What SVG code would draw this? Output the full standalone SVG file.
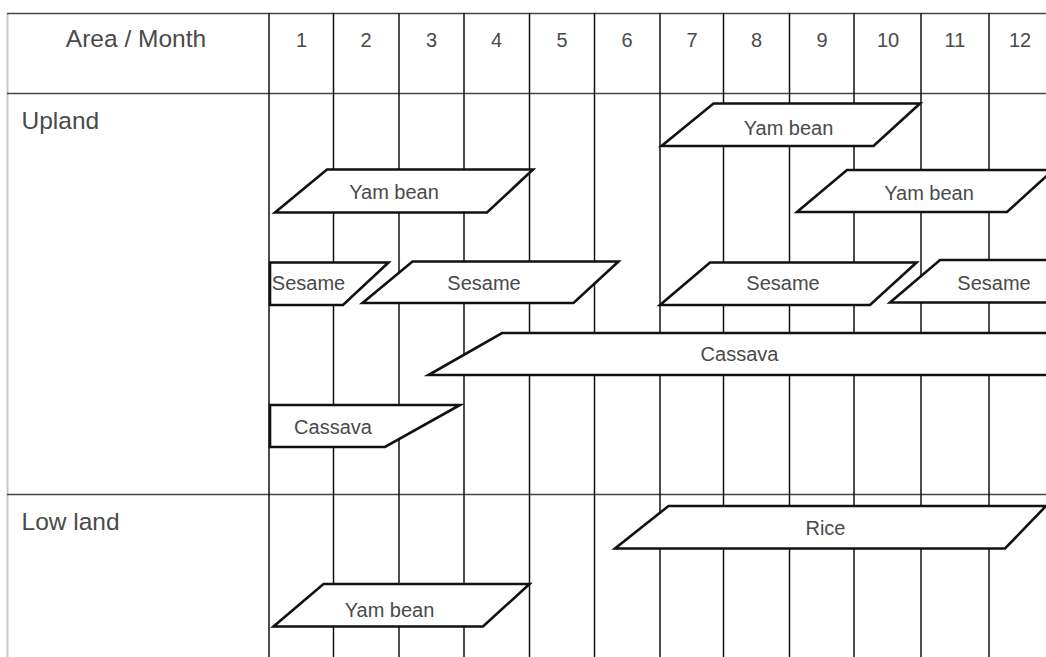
<svg xmlns="http://www.w3.org/2000/svg" width="1046" height="657" viewBox="0 0 1046 657">
<style>
.bg{fill:#fff}
.hl{stroke:#444;stroke-width:1.6;fill:none}
.vl{stroke:#111;stroke-width:1.5;fill:none}
.edge{stroke:#c8c8c8;stroke-width:2;fill:none}
.bar{fill:#fff;stroke:#111;stroke-width:2.6;stroke-linejoin:miter}
.t{font-family:"Liberation Sans",Arial,sans-serif;fill:#4a4a4a}
.hd{font-size:20px;text-anchor:middle}
.lab{font-size:24.5px}
.bt{font-size:20px;text-anchor:middle}
</style>
<rect class="bg" x="0" y="0" width="1046" height="657"/>
<g id="grid">
  <line class="edge" x1="7.5" y1="13" x2="7.5" y2="657"/>
  <line class="hl" x1="7" y1="13.5" x2="1046" y2="13.5"/>
  <line class="hl" x1="7" y1="93.5" x2="1046" y2="93.5"/>
  <line class="hl" x1="7" y1="494.5" x2="1046" y2="494.5"/>
  <line class="vl" x1="269" y1="13" x2="269" y2="657"/>
  <line class="vl" x1="333.5" y1="13" x2="333.5" y2="657"/>
  <line class="vl" x1="399" y1="13" x2="399" y2="657"/>
  <line class="vl" x1="464" y1="13" x2="464" y2="657"/>
  <line class="vl" x1="529.5" y1="13" x2="529.5" y2="657"/>
  <line class="vl" x1="594.5" y1="13" x2="594.5" y2="657"/>
  <line class="vl" x1="660" y1="13" x2="660" y2="657"/>
  <line class="vl" x1="723.5" y1="13" x2="723.5" y2="657"/>
  <line class="vl" x1="789.5" y1="13" x2="789.5" y2="657"/>
  <line class="vl" x1="854" y1="13" x2="854" y2="657"/>
  <line class="vl" x1="921" y1="13" x2="921" y2="657"/>
  <line class="vl" x1="989" y1="13" x2="989" y2="657"/>
</g>
<g id="header">
  <text class="t lab" x="136" y="47" text-anchor="middle">Area / Month</text>
  <text class="t hd" x="301.5" y="47">1</text>
  <text class="t hd" x="366" y="47">2</text>
  <text class="t hd" x="431.5" y="47">3</text>
  <text class="t hd" x="496.5" y="47">4</text>
  <text class="t hd" x="562" y="47">5</text>
  <text class="t hd" x="627" y="47">6</text>
  <text class="t hd" x="692" y="47">7</text>
  <text class="t hd" x="756.5" y="47">8</text>
  <text class="t hd" x="822" y="47">9</text>
  <text class="t hd" x="888" y="47">10</text>
  <text class="t hd" x="955" y="47">11</text>
  <text class="t hd" x="1020" y="47">12</text>
</g>
<g id="label-upland"><text class="t lab" x="21.5" y="128.5">Upland</text></g>
<g id="label-lowland"><text class="t lab" x="21.5" y="529.5">Low land</text></g>
<g id="up-yambean-1">
  <polygon class="bar" points="327,169.5 533,169.5 487,212.5 275,212.5"/>
  <text class="t bt" x="394" y="198.5">Yam bean</text>
</g>
<g id="up-yambean-2">
  <polygon class="bar" points="713.5,103.5 920,103.5 873.5,146 661.5,146"/>
  <text class="t bt" x="788.5" y="135">Yam bean</text>
</g>
<g id="up-yambean-3">
  <polygon class="bar" points="847,170 1053,170 1007,212 797,212"/>
  <text class="t bt" x="929" y="199.5">Yam bean</text>
</g>
<g id="up-sesame-1">
  <polygon class="bar" points="270,262.5 388.5,262.5 343,305 270,305"/>
  <text class="t bt" x="308.5" y="290">Sesame</text>
</g>
<g id="up-sesame-2">
  <polygon class="bar" points="412.5,261.5 618.5,261.5 573.5,303 362.5,303"/>
  <text class="t bt" x="484" y="289.5">Sesame</text>
</g>
<g id="up-sesame-3">
  <polygon class="bar" points="710,262.5 916.5,262.5 870,305 660,305"/>
  <text class="t bt" x="783" y="290">Sesame</text>
</g>
<g id="up-sesame-4">
  <polygon class="bar" points="940,260 1150,260 1105,302.5 890,302.5"/>
  <text class="t bt" x="994" y="289.5">Sesame</text>
</g>
<g id="up-cassava-1">
  <polygon class="bar" points="502,333 1120,333 1075,375 428.5,375"/>
  <text class="t bt" x="739.5" y="361">Cassava</text>
</g>
<g id="up-cassava-2">
  <polygon class="bar" points="270,405 460,405 385,447 270,447"/>
  <text class="t bt" x="333" y="434">Cassava</text>
</g>
<g id="low-rice">
  <polygon class="bar" points="668.5,506 1046,506 1005,548.5 615,548.5"/>
  <text class="t bt" x="825.5" y="534.5">Rice</text>
</g>
<g id="low-yambean">
  <polygon class="bar" points="323.5,584 529.5,584 483,626.5 273.5,626.5"/>
  <text class="t bt" x="389.5" y="616.5">Yam bean</text>
</g>
<g id="connectors"></g>
</svg>
